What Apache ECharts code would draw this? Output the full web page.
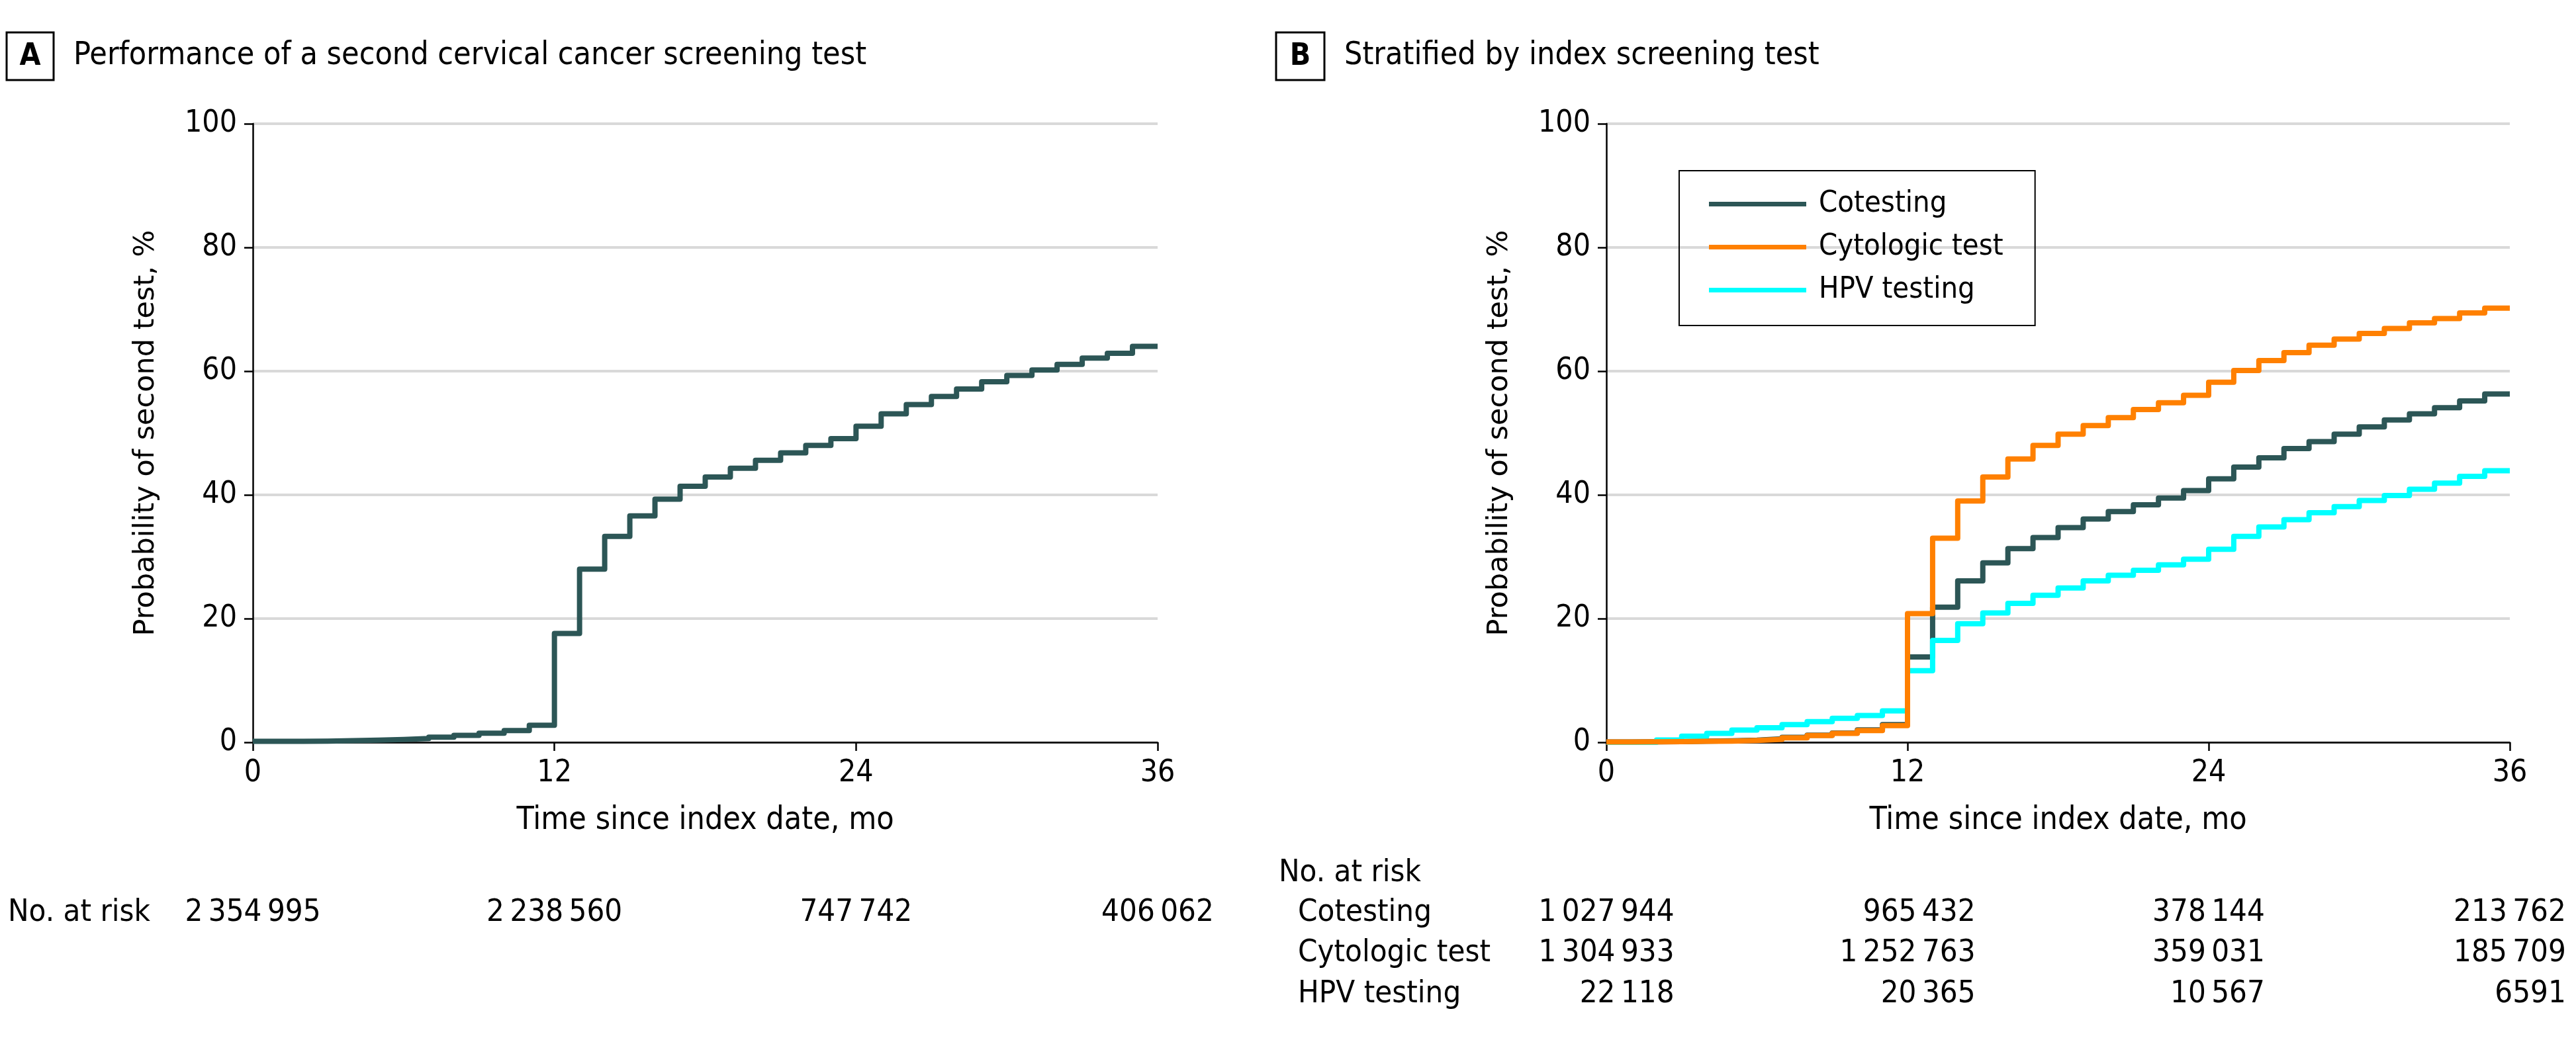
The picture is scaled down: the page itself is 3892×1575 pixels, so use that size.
<!DOCTYPE html>
<html>
<head>
<meta charset="utf-8">
<script src="https://cdn.jsdelivr.net/npm/echarts@6/dist/echarts.min.js"></script>
<style>
  html, body { margin: 0; padding: 0; background: #fff; }
  #chart { width: 3892px; height: 1575px; }
</style>
</head>
<body>
<div id="chart"></div>
<script>
// ---------------- DATA ----------------
// Month index (start of each monthly step interval), 0..35; curves end at 36
const months = [0,1,2,3,4,5,6,7,8,9,10,11,12,13,14,15,16,17,18,19,20,21,22,23,24,25,26,27,28,29,30,31,32,33,34,35];
const xTicks = [0, 12, 24, 36];

// Panel A: overall cumulative probability of second test (%)
const overall = [0.16,0.16,0.2,0.27,0.34,0.45,0.62,0.84,1.12,1.48,1.91,2.76,
  17.6,28.0,33.3,36.6,39.3,41.4,42.9,44.3,45.6,46.8,48.0,49.1,
  51.1,53.1,54.6,55.9,57.1,58.3,59.3,60.2,61.1,62.1,62.9,64.0];

// Panel B: stratified by index screening test (%)
const cotesting = [0.05,0.08,0.12,0.18,0.25,0.35,0.55,0.8,1.15,1.5,2.0,2.85,
  13.8,21.85,26.1,29.0,31.3,33.1,34.7,36.1,37.3,38.4,39.5,40.7,
  42.6,44.5,46.0,47.5,48.6,49.8,51.0,52.1,53.1,54.1,55.2,56.3];
const cytologic = [0.05,0.08,0.1,0.15,0.2,0.3,0.48,0.73,1.09,1.44,1.91,2.69,
  20.8,33.0,39.0,42.9,45.8,48.0,49.8,51.2,52.5,53.8,54.9,56.1,
  58.2,60.1,61.7,63.0,64.2,65.2,66.1,66.9,67.8,68.5,69.4,70.2];
const hpv = [0,0,0.37,0.98,1.44,1.98,2.34,2.87,3.33,3.87,4.33,5.08,
  11.58,16.46,19.17,20.92,22.45,23.77,24.95,26.1,27.0,27.8,28.7,29.6,
  31.2,33.3,34.8,36.0,37.1,38.1,39.1,39.9,40.9,41.9,43.0,43.9];

// Numbers at risk at months 0, 12, 24, 36
const riskOverall   = [2354995, 2238560, 747742, 406062];
const riskCotesting = [1027944, 965432, 378144, 213762];
const riskCytologic = [1304933, 1252763, 359031, 185709];
const riskHpv       = [22118, 20365, 10567, 6591];

const seriesNames = ['Cotesting', 'Cytologic test', 'HPV testing'];
const titleA = 'Performance of a second cervical cancer screening test';
const titleB = 'Stratified by index screening test';
const xName = 'Time since index date, mo';
const yName = 'Probability of second test, %';
const riskLabel = 'No. at risk';

// ---------------- STYLE ----------------
const FONT = "'DejaVu Sans Condensed','Liberation Sans Narrow',sans-serif";
const C_DARK = '#2c5656', C_ORANGE = '#ff8000', C_CYAN = '#00ffff';

function stepData(vals) {
  const d = months.map((m, i) => [m, vals[i]]);
  d.push([36, vals[vals.length - 1]]);
  return d;
}
function fmt(n) {
  const s = String(n);
  if (n < 10000) return s;
  return s.replace(/\B(?=(\d{3})+(?!\d))/g, '\u2009');
}

function xAxisCfg(gi) {
  return {
    gridIndex: gi, type: 'value', min: 0, max: 36, interval: 12,
    axisLine: { show: true, onZero: false, lineStyle: { color: '#000', width: 2.5 } },
    axisTick: { show: true, length: 13, lineStyle: { color: '#000', width: 2.5 } },
    axisLabel: { fontSize: 46, fontFamily: FONT, color: '#000', margin: 24 },
    splitLine: { show: false },
    name: xName, nameLocation: 'middle', nameGap: 95,
    nameTextStyle: { fontSize: 48, fontFamily: FONT, color: '#000' }
  };
}
function yAxisCfg(gi) {
  return {
    gridIndex: gi, type: 'value', min: 0, max: 100, interval: 20,
    axisLine: { show: true, lineStyle: { color: '#000', width: 2.5 } },
    axisTick: { show: true, length: 13, lineStyle: { color: '#000', width: 2.5 } },
    axisLabel: { fontSize: 46, fontFamily: FONT, color: '#000', margin: 24 },
    splitLine: { show: true, lineStyle: { color: '#d9d9d9', width: 4 } },
    name: yName, nameLocation: 'middle', nameGap: 140,
    nameTextStyle: { fontSize: 43, fontFamily: "'DejaVu Sans',sans-serif", color: '#000' }
  };
}
function lineSeries(name, vals, color, gi) {
  return {
    name: name, type: 'line', step: 'end', xAxisIndex: gi, yAxisIndex: gi,
    data: stepData(vals), symbol: 'none', showSymbol: false,
    lineStyle: { color: color, width: 8, join: 'round', cap: 'butt' },
    itemStyle: { color: color }
  };
}

const chart = echarts.init(document.getElementById('chart'), null, { renderer: 'canvas' });
chart.setOption({
  animation: false,
  backgroundColor: '#fff',
  grid: [
    { left: 382, top: 187, width: 1367, height: 935 },
    { left: 2427, top: 187, width: 1365, height: 935 }
  ],
  xAxis: [xAxisCfg(0), xAxisCfg(1)],
  yAxis: [yAxisCfg(0), yAxisCfg(1)],
  legend: {
    data: seriesNames, orient: 'vertical', left: 2537, top: 258,
    borderColor: '#000', borderWidth: 2, padding: [28, 48, 31, 45],
    itemWidth: 147, itemHeight: 7, itemGap: 20, icon: 'rect',
    textStyle: { fontSize: 45, fontFamily: FONT, color: '#000', lineHeight: 45, padding: [0, 0, 0, 14] }
  },
  series: [
    lineSeries('Overall', overall, C_DARK, 0),
    lineSeries(seriesNames[0], cotesting, C_DARK, 1),
    lineSeries(seriesNames[2], hpv, C_CYAN, 1),
    lineSeries(seriesNames[1], cytologic, C_ORANGE, 1)
  ]
});

// ------------- titles & numbers-at-risk table -------------
const RISK_FS = 47;
const ctx = document.createElement('canvas').getContext('2d');
ctx.font = RISK_FS + 'px ' + FONT;
function tw(s) { return ctx.measureText(s).width; }
function txt(x, y, s, align, size, weight) {
  return { type: 'text', x: x, y: y, silent: true,
    style: { text: s, fontSize: size || RISK_FS, fontFamily: FONT, fontWeight: weight || 'normal',
      fill: '#000', align: align || 'left', verticalAlign: 'middle' } };
}
const g = [];
// panel headers
g.push({ type: 'rect', shape: { x: 10, y: 49, width: 71, height: 72 }, style: { fill: '#fff', stroke: '#000', lineWidth: 3 } });
g.push(txt(45.5, 86, 'A', 'center', 46, 'bold'));
g.push(txt(111, 85, titleA, 'left', 48));
g.push({ type: 'rect', shape: { x: 1928, y: 49, width: 73, height: 72 }, style: { fill: '#fff', stroke: '#000', lineWidth: 3 } });
g.push(txt(1964.5, 86, 'B', 'center', 46, 'bold'));
g.push(txt(2031, 85, titleB, 'left', 48));

// Panel A risk row
g.push(txt(12, 1380, riskLabel, 'left'));
xTicks.forEach((t, i) => {
  const px = chart.convertToPixel({ xAxisIndex: 0 }, t);
  g.push(txt(px, 1380, fmt(riskOverall[i]), 'center'));
});
// Panel B risk table
g.push(txt(1932, 1320, riskLabel, 'left'));
const rows = [[seriesNames[0], riskCotesting, 1380], [seriesNames[1], riskCytologic, 1441], [seriesNames[2], riskHpv, 1503]];
rows.forEach(r => g.push(txt(1961, r[2], r[0], 'left')));
xTicks.forEach((t, i) => {
  const px = chart.convertToPixel({ xAxisIndex: 1 }, t);
  const maxW = Math.max.apply(null, rows.map(r => tw(fmt(r[1][i]))));
  rows.forEach(r => g.push(txt(px + maxW / 2, r[2], fmt(r[1][i]), 'right')));
});
chart.setOption({ graphic: g });
</script>
</body>
</html>
